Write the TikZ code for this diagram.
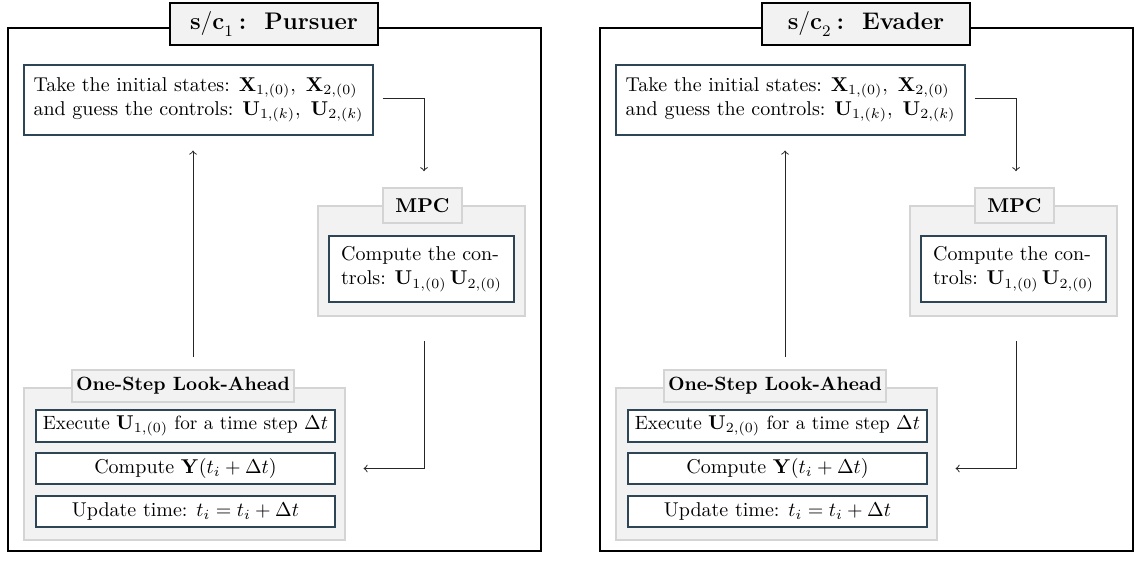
\documentclass[tikz,border=0pt]{standalone}
\usetikzlibrary{calc}
\definecolor{stepcol}{HTML}{2E4556}
\definecolor{grayfill}{HTML}{F2F2F2}
\definecolor{grayline}{HTML}{D4D4D4}
\begin{document}
\begin{tikzpicture}[x=0.5pt,y=-0.5pt,
  frame/.style={draw=black,line width=1pt,minimum width=266.5pt,minimum height=261.5pt,inner sep=0pt},
  titlebox/.style={draw=black,line width=1pt,fill=grayfill,font=\large\bfseries,minimum width=104pt,minimum height=21pt,inner sep=0pt},
  groupbox/.style={draw=grayline,fill=grayfill,line width=0.8pt,inner sep=0pt},
  grouptitle/.style={draw=grayline,fill=grayfill,line width=0.8pt,font=\bfseries,inner sep=0pt},
  stepbox/.style={draw=stepcol,fill=white,line width=0.6pt,inner sep=0pt},
  flow/.style={->,line width=0.5pt,black!85}]
\useasboundingbox (0,0) rectangle (1139,561);
\foreach \p/\who/\idx in {0/Pursuer/1,1/Evader/2}{
\begin{scope}[xshift={\p*296pt}]
\node[frame] (frame\idx) at (274.5,289.5) {};
\node[titlebox] (title\idx) at (274,24) {$\mathbf{s/c}_{\idx}$\hspace{2.5pt}:\hspace{9pt}\who};
\node[stepbox,minimum width=174.5pt,minimum height=35pt,align=left] (top\idx) at (198.5,100)
  {Take the initial states: $\mathbf{X}_{1,(0)},\ \mathbf{X}_{2,(0)}$\\and guess the controls: $\mathbf{U}_{1,(k)},\ \mathbf{U}_{2,(k)}$};
\node[groupbox,minimum width=103.5pt,minimum height=55pt] (mpc\idx) at (421.5,261) {};
\node[grouptitle,minimum width=39.5pt,minimum height=17.5pt] (mpct\idx) at (422.5,205.5) {MPC};
\node[stepbox,minimum width=92.5pt,minimum height=33pt,align=left] (mpcc\idx) at (421.5,269)
  {Compute the con-\\trols: $\mathbf{U}_{1,(0)}\,\mathbf{U}_{2,(0)}$};
\node[groupbox,minimum width=160.5pt,minimum height=76pt] (la\idx) at (184.5,464) {};
\node[grouptitle,minimum width=111pt,minimum height=16pt,font=\fontsize{9.6}{11}\selectfont\bfseries] (lat\idx) at (183,386) {One-Step Look-Ahead};
\node[stepbox,minimum width=149.5pt,minimum height=16pt,font=\fontsize{9.6}{11}\selectfont] (sa\idx) at (185.5,426)
  {Execute $\mathbf{U}_{\idx,(0)}$ for a time step $\Delta t$};
\node[stepbox,minimum width=149.5pt,minimum height=15.5pt] (sb\idx) at (185.5,468.5)
  {Compute $\mathbf{Y}(t_i+\Delta t)$};
\node[stepbox,minimum width=149.5pt,minimum height=15.5pt] (sc\idx) at (185.5,511.5)
  {Update time: $t_i=t_i+\Delta t$};
\draw[flow] ([xshift=4.5pt,yshift=0.5pt]top\idx.east) -| ([xshift=0.75pt,yshift=8pt]mpct\idx.north);
\draw[flow] ([xshift=1.25pt,yshift=-12pt]mpc\idx.south) |- ([xshift=14pt]sb\idx.east);
\coordinate (up\idx) at ([xshift=5pt,yshift=6pt]lat\idx.north);
\draw[flow,shorten >=7.5pt] (up\idx) -- (up\idx |- top\idx.south);
\end{scope}}
\end{tikzpicture}
\end{document}
